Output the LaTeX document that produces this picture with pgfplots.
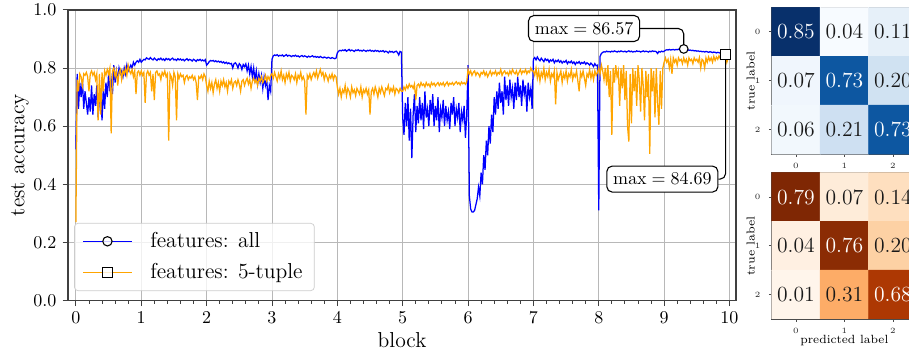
\documentclass[border=0pt]{standalone}
\usepackage{pgfplots}
\pgfplotsset{compat=1.18}
\usepackage{pgfplotstable}
\definecolor{mplblue}{RGB}{0,0,255}
\definecolor{mplorange}{RGB}{255,165,0}
\pgfplotsset{
  colormap={mpblues}{rgb255=(247,251,255) rgb255=(222,235,247) rgb255=(198,219,239) rgb255=(158,202,225) rgb255=(107,174,214) rgb255=(66,146,198) rgb255=(33,113,181) rgb255=(8,81,156) rgb255=(8,48,107)},
  colormap={mporanges}{rgb255=(255,245,235) rgb255=(254,230,206) rgb255=(253,208,162) rgb255=(253,174,107) rgb255=(253,141,60) rgb255=(241,105,19) rgb255=(217,72,1) rgb255=(166,54,3) rgb255=(127,39,4)},
  cmstyle/.style={
    scale only axis, width=80.8pt,
    xmin=-0.5, xmax=2.5, ymin=-0.5, ymax=2.5, y dir=reverse,
    xtick={0,1,2}, ytick={0,1,2}, xticklabels={0,1,2}, yticklabels={0,1,2},
    tick label style={font=\fontsize{4.5}{5.5}\selectfont, text=black!85},
    yticklabel style={xshift=-1.2pt},
    tick align=outside, xtick pos=left, ytick pos=left,
    major tick length=1.5pt, tick style={black!70, line width=0.4pt},
    axis line style={draw=black!70, line width=0.6pt},
    ylabel={true label},
    ylabel style={font=\fontsize{6.4}{7.5}\selectfont, at={(axis description cs:-0.145,0.5)}, anchor=center},
    xlabel style={font=\fontsize{6.6}{7.5}\selectfont, at={(axis description cs:0.5,-0.15)}, anchor=center},
  },
}

\pgfplotstableread[row sep=\\]{
x b o\\
0.00 0.52 0.27\\ 0.02 0.78 0.76\\ 0.04 0.66 0.72\\ 0.06 0.75 0.78\\ 0.08 0.70 0.77\\ 0.10 0.76 0.74\\ 0.12 0.66 0.78\\ 0.14 0.72 0.775\\ 0.16 0.68 0.785\\ 0.18 0.64 0.77\\
0.20 0.70 0.72\\ 0.22 0.65 0.78\\ 0.24 0.74 0.79\\ 0.26 0.64 0.775\\ 0.28 0.71 0.785\\ 0.30 0.67 0.76\\ 0.32 0.74 0.78\\ 0.34 0.63 0.62\\ 0.36 0.69 0.78\\ 0.38 0.72 0.64\\
0.40 0.62 0.785\\ 0.42 0.73 0.72\\ 0.44 0.66 0.79\\ 0.46 0.75 0.775\\ 0.48 0.70 0.795\\ 0.50 0.78 0.78\\ 0.52 0.72 0.80\\ 0.54 0.76 0.575\\ 0.56 0.71 0.79\\ 0.58 0.81 0.80\\
0.60 0.75 0.77\\ 0.62 0.79 0.79\\ 0.64 0.76 0.74\\ 0.66 0.80 0.785\\ 0.68 0.78 0.795\\ 0.70 0.79 0.76\\ 0.72 0.77 0.79\\ 0.74 0.80 0.78\\ 0.76 0.78 0.80\\ 0.78 0.81 0.775\\
0.80 0.79 0.81\\ 0.82 0.80 0.79\\ 0.84 0.81 0.78\\ 0.86 0.80 0.795\\ 0.88 0.82 0.77\\ 0.90 0.81 0.79\\ 0.92 0.82 0.71\\ 0.94 0.825 0.785\\ 0.96 0.82 0.79\\ 0.98 0.83 0.775\\
1.00 0.82 0.79\\ 1.02 0.825 0.775\\ 1.04 0.83 0.785\\ 1.06 0.828 0.68\\ 1.08 0.835 0.78\\ 1.10 0.832 0.79\\ 1.12 0.83 0.775\\ 1.14 0.836 0.785\\ 1.16 0.831 0.72\\ 1.18 0.828 0.78\\
1.20 0.834 0.69\\ 1.22 0.83 0.785\\ 1.24 0.826 0.79\\ 1.26 0.832 0.775\\ 1.28 0.829 0.78\\ 1.30 0.834 0.76\\ 1.32 0.828 0.785\\ 1.34 0.831 0.775\\ 1.36 0.826 0.79\\ 1.38 0.833 0.77\\
1.40 0.829 0.78\\ 1.42 0.832 0.55\\ 1.44 0.827 0.78\\ 1.46 0.831 0.77\\ 1.48 0.834 0.74\\ 1.50 0.828 0.785\\ 1.52 0.83 0.77\\ 1.54 0.826 0.62\\ 1.56 0.832 0.78\\ 1.58 0.828 0.765\\
1.60 0.831 0.78\\ 1.62 0.827 0.77\\ 1.64 0.83 0.775\\ 1.66 0.825 0.75\\ 1.68 0.829 0.77\\ 1.70 0.832 0.775\\ 1.72 0.826 0.76\\ 1.74 0.83 0.77\\ 1.76 0.828 0.765\\ 1.78 0.824 0.775\\
1.80 0.83 0.76\\ 1.82 0.827 0.77\\ 1.84 0.823 0.75\\ 1.86 0.829 0.69\\ 1.88 0.826 0.77\\ 1.90 0.83 0.765\\ 1.92 0.825 0.775\\ 1.94 0.828 0.76\\ 1.96 0.824 0.78\\ 1.98 0.829 0.77\\
2.00 0.81 0.74\\ 2.02 0.815 0.72\\ 2.04 0.822 0.755\\ 2.06 0.826 0.73\\ 2.08 0.824 0.75\\ 2.10 0.826 0.715\\ 2.12 0.822 0.745\\ 2.14 0.825 0.76\\ 2.16 0.821 0.73\\ 2.18 0.824 0.75\\
2.20 0.82 0.72\\ 2.22 0.823 0.755\\ 2.24 0.818 0.74\\ 2.26 0.821 0.76\\ 2.28 0.816 0.735\\ 2.30 0.82 0.75\\ 2.32 0.815 0.72\\ 2.34 0.818 0.755\\ 2.36 0.814 0.745\\ 2.38 0.816 0.76\\
2.40 0.80 0.73\\ 2.42 0.815 0.75\\ 2.44 0.818 0.755\\ 2.46 0.812 0.74\\ 2.48 0.80 0.76\\ 2.50 0.815 0.745\\ 2.52 0.81 0.72\\ 2.54 0.795 0.755\\ 2.56 0.812 0.76\\ 2.58 0.805 0.74\\
2.60 0.814 0.755\\ 2.62 0.79 0.765\\ 2.64 0.81 0.745\\ 2.66 0.78 0.76\\ 2.68 0.805 0.73\\ 2.70 0.77 0.755\\ 2.72 0.80 0.765\\ 2.74 0.76 0.75\\ 2.76 0.79 0.76\\ 2.78 0.745 0.74\\
2.80 0.78 0.765\\ 2.82 0.75 0.755\\ 2.84 0.775 0.77\\ 2.86 0.73 0.75\\ 2.88 0.77 0.76\\ 2.90 0.74 0.775\\ 2.92 0.76 0.755\\ 2.94 0.69 0.77\\ 2.96 0.74 0.76\\ 2.98 0.72 0.775\\
3.00 0.83 0.78\\ 3.02 0.842 0.765\\ 3.04 0.845 0.785\\ 3.06 0.843 0.77\\ 3.08 0.846 0.755\\ 3.10 0.841 0.78\\ 3.12 0.844 0.765\\ 3.14 0.842 0.79\\ 3.16 0.845 0.76\\ 3.18 0.84 0.775\\
3.20 0.843 0.75\\ 3.22 0.846 0.78\\ 3.24 0.841 0.765\\ 3.26 0.844 0.785\\ 3.28 0.842 0.755\\ 3.30 0.839 0.775\\ 3.32 0.843 0.77\\ 3.34 0.841 0.76\\ 3.36 0.844 0.78\\ 3.38 0.84 0.75\\
3.40 0.842 0.775\\ 3.42 0.838 0.765\\ 3.44 0.841 0.785\\ 3.46 0.843 0.76\\ 3.48 0.839 0.77\\ 3.50 0.842 0.755\\ 3.52 0.84 0.64\\ 3.54 0.837 0.775\\ 3.56 0.841 0.765\\ 3.58 0.838 0.78\\
3.60 0.84 0.76\\ 3.62 0.842 0.775\\ 3.64 0.838 0.785\\ 3.66 0.84 0.77\\ 3.68 0.837 0.79\\ 3.70 0.839 0.765\\ 3.72 0.836 0.78\\ 3.74 0.84 0.795\\ 3.76 0.837 0.775\\ 3.78 0.835 0.785\\
3.80 0.838 0.76\\ 3.82 0.836 0.78\\ 3.84 0.834 0.77\\ 3.86 0.837 0.755\\ 3.88 0.835 0.775\\ 3.90 0.833 0.765\\ 3.92 0.836 0.78\\ 3.94 0.834 0.76\\ 3.96 0.832 0.775\\ 3.98 0.834 0.77\\
4.00 0.852 0.735\\ 4.02 0.858 0.71\\ 4.04 0.861 0.73\\ 4.06 0.859 0.70\\ 4.08 0.862 0.725\\ 4.10 0.86 0.715\\ 4.12 0.863 0.74\\ 4.14 0.858 0.705\\ 4.16 0.861 0.73\\ 4.18 0.864 0.72\\
4.20 0.859 0.70\\ 4.22 0.862 0.735\\ 4.24 0.86 0.715\\ 4.26 0.857 0.725\\ 4.28 0.862 0.705\\ 4.30 0.86 0.73\\ 4.32 0.863 0.72\\ 4.34 0.859 0.71\\ 4.36 0.861 0.735\\ 4.38 0.858 0.70\\
4.40 0.862 0.725\\ 4.42 0.86 0.715\\ 4.44 0.857 0.73\\ 4.46 0.861 0.71\\ 4.48 0.859 0.725\\ 4.50 0.862 0.64\\ 4.52 0.858 0.72\\ 4.54 0.86 0.73\\ 4.56 0.857 0.71\\ 4.58 0.861 0.735\\
4.60 0.858 0.72\\ 4.62 0.86 0.70\\ 4.64 0.856 0.73\\ 4.66 0.859 0.715\\ 4.68 0.857 0.735\\ 4.70 0.86 0.72\\ 4.72 0.855 0.705\\ 4.74 0.858 0.73\\ 4.76 0.856 0.725\\ 4.78 0.852 0.74\\
4.80 0.858 0.715\\ 4.82 0.855 0.73\\ 4.84 0.857 0.72\\ 4.86 0.853 0.735\\ 4.88 0.856 0.71\\ 4.90 0.858 0.73\\ 4.92 0.854 0.725\\ 4.94 0.845 0.715\\ 4.96 0.857 0.73\\ 4.98 0.855 0.72\\
5.00 0.63 0.72\\ 5.02 0.57 0.735\\ 5.04 0.68 0.725\\ 5.06 0.60 0.74\\ 5.08 0.70 0.73\\ 5.10 0.55 0.745\\ 5.12 0.66 0.735\\ 5.14 0.49 0.74\\ 5.16 0.64 0.73\\ 5.18 0.71 0.745\\
5.20 0.58 0.69\\ 5.22 0.67 0.74\\ 5.24 0.61 0.745\\ 5.26 0.70 0.735\\ 5.28 0.62 0.75\\ 5.30 0.68 0.74\\ 5.32 0.59 0.745\\ 5.34 0.72 0.735\\ 5.36 0.63 0.75\\ 5.38 0.66 0.74\\
5.40 0.60 0.745\\ 5.42 0.69 0.735\\ 5.44 0.64 0.75\\ 5.46 0.71 0.742\\ 5.48 0.60 0.748\\ 5.50 0.67 0.738\\ 5.52 0.62 0.745\\ 5.54 0.70 0.75\\ 5.56 0.58 0.74\\ 5.58 0.66 0.748\\
5.60 0.63 0.742\\ 5.62 0.69 0.75\\ 5.64 0.60 0.738\\ 5.66 0.67 0.746\\ 5.68 0.62 0.752\\ 5.70 0.65 0.74\\ 5.72 0.59 0.748\\ 5.74 0.68 0.744\\ 5.76 0.64 0.75\\ 5.78 0.70 0.742\\
5.80 0.60 0.748\\ 5.82 0.66 0.753\\ 5.84 0.63 0.745\\ 5.86 0.68 0.75\\ 5.88 0.58 0.742\\ 5.90 0.65 0.752\\ 5.92 0.62 0.746\\ 5.94 0.67 0.75\\ 5.96 0.56 0.744\\ 5.98 0.64 0.752\\
6.00 0.81 0.795\\ 6.02 0.36 0.78\\ 6.04 0.315 0.79\\ 6.06 0.305 0.775\\ 6.08 0.305 0.785\\ 6.10 0.31 0.79\\ 6.12 0.33 0.775\\ 6.14 0.35 0.785\\ 6.16 0.39 0.78\\ 6.18 0.36 0.77\\
6.20 0.44 0.785\\ 6.22 0.40 0.78\\ 6.24 0.50 0.79\\ 6.26 0.45 0.775\\ 6.28 0.55 0.785\\ 6.30 0.50 0.77\\ 6.32 0.60 0.78\\ 6.34 0.54 0.79\\ 6.36 0.64 0.775\\ 6.38 0.58 0.785\\
6.40 0.70 0.78\\ 6.42 0.64 0.79\\ 6.44 0.72 0.775\\ 6.46 0.66 0.785\\ 6.48 0.75 0.78\\ 6.50 0.68 0.795\\ 6.52 0.72 0.775\\ 6.54 0.64 0.785\\ 6.56 0.77 0.79\\ 6.58 0.69 0.78\\
6.60 0.74 0.785\\ 6.62 0.67 0.775\\ 6.64 0.76 0.79\\ 6.66 0.70 0.78\\ 6.68 0.73 0.795\\ 6.70 0.66 0.785\\ 6.72 0.75 0.78\\ 6.74 0.69 0.79\\ 6.76 0.77 0.775\\ 6.78 0.70 0.785\\
6.80 0.74 0.795\\ 6.82 0.67 0.78\\ 6.84 0.76 0.79\\ 6.86 0.71 0.785\\ 6.88 0.74 0.795\\ 6.90 0.65 0.78\\ 6.92 0.75 0.79\\ 6.94 0.70 0.785\\ 6.96 0.73 0.80\\ 6.98 0.66 0.79\\
7.00 0.83 0.79\\ 7.02 0.836 0.775\\ 7.04 0.828 0.80\\ 7.06 0.838 0.765\\ 7.08 0.83 0.79\\ 7.10 0.825 0.755\\ 7.12 0.834 0.785\\ 7.14 0.828 0.77\\ 7.16 0.822 0.80\\ 7.18 0.832 0.76\\
7.20 0.826 0.785\\ 7.22 0.83 0.77\\ 7.24 0.82 0.795\\ 7.26 0.828 0.755\\ 7.28 0.824 0.78\\ 7.30 0.83 0.77\\ 7.32 0.818 0.79\\ 7.34 0.826 0.675\\ 7.36 0.822 0.785\\ 7.38 0.828 0.76\\
7.40 0.82 0.775\\ 7.42 0.825 0.79\\ 7.44 0.817 0.75\\ 7.46 0.823 0.78\\ 7.48 0.82 0.765\\ 7.50 0.826 0.79\\ 7.52 0.815 0.755\\ 7.54 0.822 0.78\\ 7.56 0.818 0.77\\ 7.58 0.824 0.795\\
7.60 0.816 0.76\\ 7.62 0.821 0.78\\ 7.64 0.812 0.77\\ 7.66 0.82 0.79\\ 7.68 0.817 0.755\\ 7.70 0.822 0.72\\ 7.72 0.814 0.785\\ 7.74 0.819 0.77\\ 7.76 0.816 0.79\\ 7.78 0.821 0.765\\
7.80 0.813 0.74\\ 7.82 0.818 0.78\\ 7.84 0.815 0.77\\ 7.86 0.81 0.795\\ 7.88 0.817 0.765\\ 7.90 0.812 0.785\\ 7.92 0.805 0.76\\ 7.94 0.815 0.79\\ 7.96 0.808 0.775\\ 7.98 0.81 0.785\\
8.00 0.31 0.80\\ 8.02 0.84 0.78\\ 8.04 0.85 0.81\\ 8.06 0.854 0.79\\ 8.08 0.856 0.76\\ 8.10 0.855 0.80\\ 8.12 0.858 0.74\\ 8.14 0.856 0.81\\ 8.16 0.857 0.70\\ 8.18 0.855 0.79\\
8.20 0.858 0.57\\ 8.22 0.856 0.80\\ 8.24 0.859 0.75\\ 8.26 0.857 0.81\\ 8.28 0.855 0.77\\ 8.30 0.858 0.79\\ 8.32 0.856 0.67\\ 8.34 0.859 0.80\\ 8.36 0.857 0.73\\ 8.38 0.856 0.81\\
8.40 0.858 0.69\\ 8.42 0.855 0.79\\ 8.44 0.857 0.60\\ 8.46 0.859 0.547\\ 8.48 0.856 0.78\\ 8.50 0.858 0.61\\ 8.52 0.855 0.80\\ 8.54 0.857 0.72\\ 8.56 0.856 0.79\\ 8.58 0.859 0.67\\
8.60 0.857 0.81\\ 8.62 0.858 0.76\\ 8.64 0.855 0.65\\ 8.66 0.857 0.80\\ 8.68 0.859 0.74\\ 8.70 0.856 0.62\\ 8.72 0.858 0.79\\ 8.74 0.857 0.70\\ 8.76 0.855 0.78\\ 8.78 0.858 0.505\\
8.80 0.856 0.80\\ 8.82 0.859 0.72\\ 8.84 0.857 0.79\\ 8.86 0.858 0.63\\ 8.88 0.856 0.80\\ 8.90 0.85 0.68\\ 8.92 0.857 0.605\\ 8.94 0.855 0.79\\ 8.96 0.858 0.66\\ 8.98 0.856 0.80\\
9.00 0.858 0.82\\ 9.02 0.861 0.835\\ 9.04 0.863 0.82\\ 9.06 0.862 0.83\\ 9.08 0.864 0.80\\ 9.10 0.862 0.83\\ 9.12 0.863 0.78\\ 9.14 0.864 0.835\\ 9.16 0.862 0.82\\ 9.18 0.864 0.83\\
9.20 0.863 0.81\\ 9.22 0.865 0.835\\ 9.24 0.863 0.825\\ 9.26 0.864 0.83\\ 9.28 0.862 0.815\\ 9.30 0.8657 0.835\\ 9.32 0.864 0.82\\ 9.34 0.862 0.83\\ 9.36 0.863 0.81\\ 9.38 0.861 0.835\\
9.40 0.862 0.825\\ 9.42 0.86 0.83\\ 9.44 0.861 0.815\\ 9.46 0.859 0.835\\ 9.48 0.86 0.825\\ 9.50 0.858 0.83\\ 9.52 0.859 0.82\\ 9.54 0.857 0.836\\ 9.56 0.858 0.80\\ 9.58 0.856 0.83\\
9.60 0.857 0.825\\ 9.62 0.855 0.80\\ 9.64 0.857 0.835\\ 9.66 0.856 0.82\\ 9.68 0.854 0.838\\ 9.70 0.856 0.825\\ 9.72 0.855 0.835\\ 9.74 0.853 0.82\\ 9.76 0.855 0.84\\ 9.78 0.854 0.826\\
9.80 0.852 0.838\\ 9.82 0.854 0.83\\ 9.84 0.853 0.842\\ 9.86 0.851 0.832\\ 9.88 0.853 0.84\\ 9.90 0.852 0.835\\ 9.92 0.85 0.843\\ 9.94 0.852 0.8469\\ 9.96 0.851 0.82\\ 9.98 0.852 0.835\\
}\acc

\begin{document}
\begin{tikzpicture}
\begin{axis}[
  at={(37.8pt,28pt)}, anchor=south west,
  scale only axis, width=371.1pt, height=161.5pt,
  xmin=-0.12, xmax=10.1, ymin=0, ymax=1,
  xtick={0,1,2,3,4,5,6,7,8,9,10},
  ytick={0,0.2,0.4,0.6,0.8,1},
  yticklabel style={/pgf/number format/.cd, fixed, fixed zerofill, precision=1},
  minor x tick num=4,
  tick align=outside, xtick pos=left, ytick pos=left,
  major tick length=3pt, minor tick length=1.8pt,
  tick style={black!75, line width=0.5pt},
  grid=major, grid style={line width=0.5pt, color=black!28},
  axis line style={draw=black!75, line width=0.8pt},
  xlabel={block}, ylabel={test accuracy},
  xlabel style={font=\large, at={(axis description cs:0.5,-0.1375)}, anchor=center},
  ylabel style={font=\large, at={(axis description cs:-0.072,0.5)}, anchor=center},
  legend image code/.code={\draw[mark repeat=2,mark phase=2,#1] plot coordinates {(0pt,0pt) (13.5pt,0pt) (27pt,0pt)};},
  legend style={at={(axis description cs:0.009,0.033)}, anchor=south west,
    font=\large, draw=black!20, rounded corners=2pt, fill=white, fill opacity=0.8, text opacity=1,
    inner xsep=4.5pt, inner ysep=3pt, column sep=8pt, row sep=3.5pt},
  legend cell align=left,
]
\addplot[mplblue, line width=0.7pt, forget plot] table[x=x, y=b]{\acc};
\addplot[mplorange, line width=0.7pt, forget plot] table[x=x, y=o]{\acc};
\addplot[only marks, mark=*, mark size=2.4pt, mark options={fill=white, draw=black, line width=0.6pt}, forget plot] coordinates {(9.30,0.8657)};
\addplot[only marks, mark=square*, mark size=2.8pt, mark options={fill=white, draw=black, line width=0.6pt}, forget plot] coordinates {(9.94,0.8469)};
\addlegendimage{mplblue, line width=0.7pt, mark=*, mark size=2.6pt, mark options={fill=white, draw=black, line width=0.6pt}}
\addlegendentry{features: all}
\addlegendimage{mplorange, line width=0.7pt, mark=square*, mark size=2.8pt, mark options={fill=white, draw=black, line width=0.6pt}}
\addlegendentry{features: 5-tuple}
\node[draw=black, rounded corners=3pt, fill=white, inner xsep=3.5pt, inner ysep=4pt, line width=0.6pt] (b1) at (axis cs:7.775,0.936) {$\max = 86.57$};
\draw[line width=0.6pt, rounded corners=3pt] (b1.east) -| ([yshift=2.4pt]axis cs:9.30,0.8657);
\node[draw=black, rounded corners=3pt, fill=white, inner xsep=3.5pt, inner ysep=4pt, line width=0.6pt] (b2) at (axis cs:8.973,0.418) {$\max = 84.69$};
\draw[line width=0.6pt, rounded corners=3pt] (b2.east) -| ([yshift=-2.8pt]axis cs:9.94,0.8469);
\end{axis}

\begin{axis}[cmstyle, at={(428.7pt,190.9pt)}, anchor=north west, height=81.5pt,
  colormap name=mpblues, point meta min=0.04, point meta max=0.85]
\addplot[matrix plot*, mesh/cols=3, point meta=explicit] table[x=x, y=y, meta=c, row sep=\\]{
x y c\\ 0 0 0.85\\ 1 0 0.04\\ 2 0 0.11\\ 0 1 0.07\\ 1 1 0.73\\ 2 1 0.20\\ 0 2 0.06\\ 1 2 0.21\\ 2 2 0.73\\};
\addplot[draw=none, nodes near coords, point meta=explicit symbolic, nodes near coords align=center,
  every node near coord/.append style={font=\large, text=white, anchor=center}] table[x=x, y=y, meta=t, row sep=\\]{
x y t\\ 0 0 0.85\\ 1 1 0.73\\ 2 2 0.73\\};
\addplot[draw=none, nodes near coords, point meta=explicit symbolic, nodes near coords align=center,
  every node near coord/.append style={font=\large, text=black!90, anchor=center}] table[x=x, y=y, meta=t, row sep=\\]{
x y t\\ 1 0 0.04\\ 2 0 0.11\\ 0 1 0.07\\ 2 1 0.20\\ 0 2 0.06\\ 1 2 0.21\\};
\end{axis}

\begin{axis}[cmstyle, at={(428.7pt,99.1pt)}, anchor=north west, height=81.3pt,
  colormap name=mporanges, point meta min=0.01, point meta max=0.79,
  xlabel={predicted label}]
\addplot[matrix plot*, mesh/cols=3, point meta=explicit] table[x=x, y=y, meta=c, row sep=\\]{
x y c\\ 0 0 0.79\\ 1 0 0.07\\ 2 0 0.14\\ 0 1 0.04\\ 1 1 0.76\\ 2 1 0.20\\ 0 2 0.01\\ 1 2 0.31\\ 2 2 0.68\\};
\addplot[draw=none, nodes near coords, point meta=explicit symbolic, nodes near coords align=center,
  every node near coord/.append style={font=\large, text=white, anchor=center}] table[x=x, y=y, meta=t, row sep=\\]{
x y t\\ 0 0 0.79\\ 1 1 0.76\\ 2 2 0.68\\};
\addplot[draw=none, nodes near coords, point meta=explicit symbolic, nodes near coords align=center,
  every node near coord/.append style={font=\large, text=black!90, anchor=center}] table[x=x, y=y, meta=t, row sep=\\]{
x y t\\ 1 0 0.07\\ 2 0 0.14\\ 0 1 0.04\\ 2 1 0.20\\ 0 2 0.01\\ 1 2 0.31\\};
\end{axis}

\pgfresetboundingbox
\useasboundingbox (0,0) rectangle (505pt,195pt);
\end{tikzpicture}
\end{document}
